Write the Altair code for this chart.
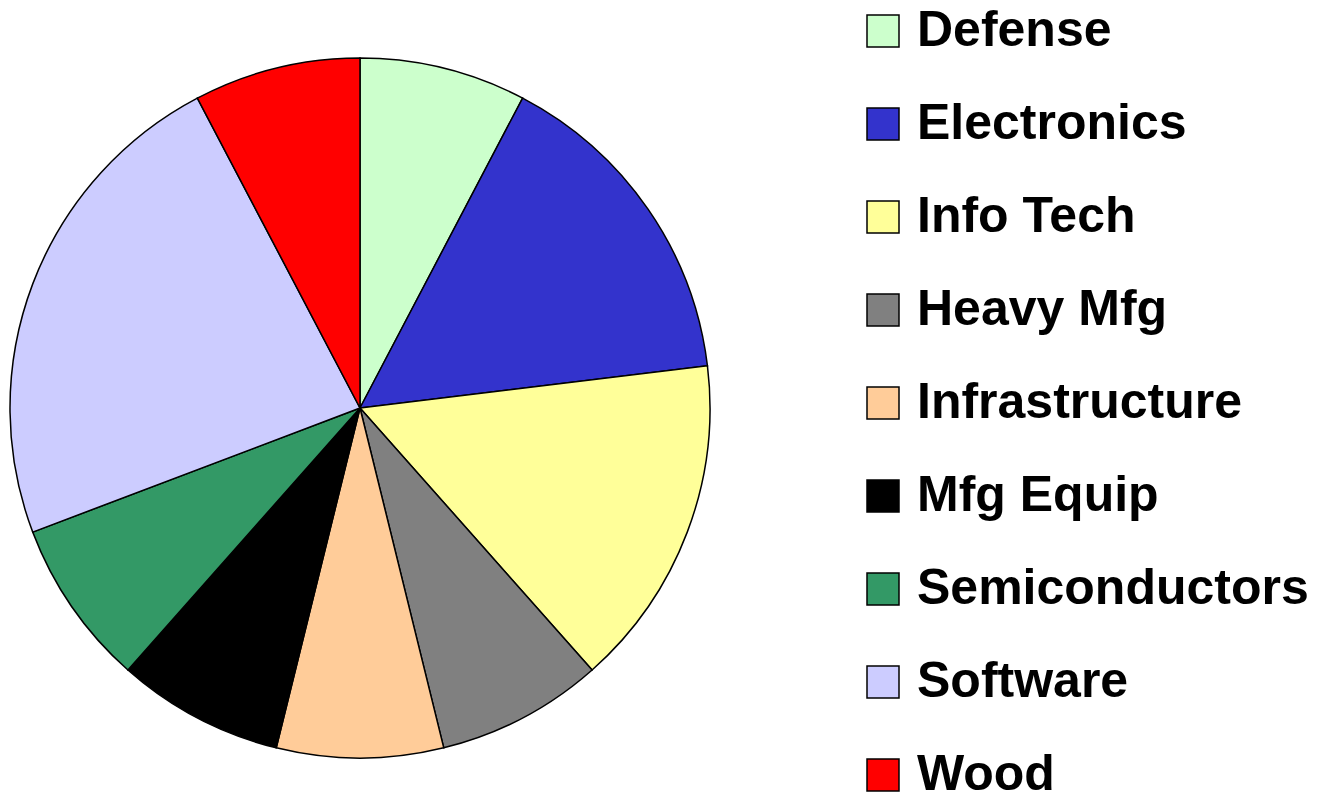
import altair as alt
import pandas as pd

sectors = ["Defense", "Electronics", "Info Tech", "Heavy Mfg", "Infrastructure",
           "Mfg Equip", "Semiconductors", "Software", "Wood"]
shares = [1, 2, 2, 1, 1, 1, 1, 3, 1]
colors = ["#CCFFCC", "#3333CC", "#FFFF99", "#808080", "#FFCC99",
          "#000000", "#339966", "#CCCCFF", "#FF0000"]

df = pd.DataFrame({"sector": sectors, "share": shares, "order": list(range(len(sectors)))})

chart = alt.Chart(df).mark_arc(
    radius=350, stroke="black", strokeWidth=1.5
).encode(
    theta=alt.Theta("share:Q", stack=True),
    order=alt.Order("order:Q"),
    color=alt.Color(
        "sector:N",
        scale=alt.Scale(domain=sectors, range=colors),
        legend=alt.Legend(
            title=None, orient="none", legendX=850, legendY=-2,
            symbolType="square", symbolSize=1024, symbolStrokeColor="black",
            symbolStrokeWidth=1.5, labelFont="Liberation Sans", labelFontWeight="bold",
            labelFontSize=50, labelColor="black", labelOffset=9, rowPadding=43,
            labelLimit=600,
        ),
    ),
    x=alt.value(352),
    y=alt.value(400),
).properties(
    width=1304, height=786, autosize="none", padding=0
).configure_view(stroke=None)

chart.save("out.html", embed_options={"renderer": "svg", "actions": False})
